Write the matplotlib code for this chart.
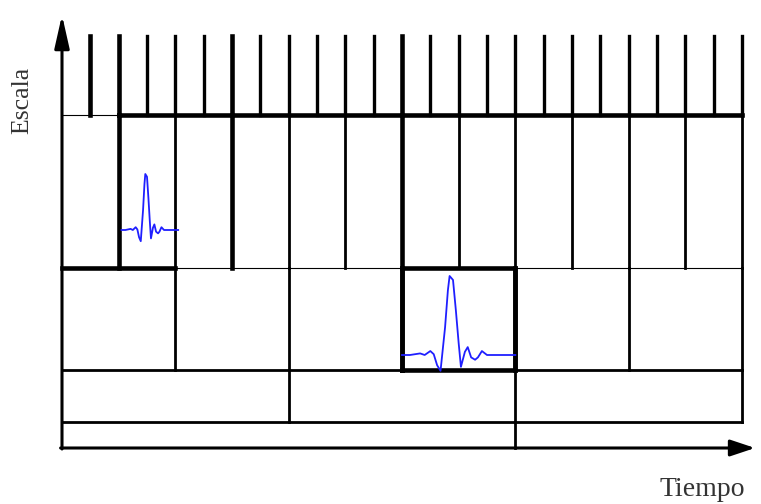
import matplotlib.pyplot as plt
import numpy as np

# tiling of the time-scale plane (bottom level first)
divisions = [2, 3, 6, 12, 24]
level_edges = [0, 26, 78, 180, 333, 412]
t_max = 24
bottom_cuts = [16]  # the lowest level is split unevenly

# emphasised (thick) vertical boundaries per level
thick_v = {0: [], 1: [], 2: [12, 16], 3: [2, 6, 12], 4: [1, 2, 6, 12]}
# highlighted cells: (level, cell index)
boxes = [(2, 3)]
# thin / thick horizontal pieces: (level edge, t0, t1)
thin_h = [(180, 0, 24), (333, 0, 2)]
thick_h = [(180, 0, 4), (333, 2, 24)]

# ECG-like wavelet shape (fraction of cell width, normalised amplitude)
ecg_t = [0.0, 0.07, 0.16, 0.20, 0.25, 0.28, 0.31, 0.34, 0.38, 0.405, 0.42,
         0.45, 0.475, 0.50, 0.52, 0.555, 0.58, 0.61, 0.645, 0.67, 0.705,
         0.75, 0.87, 1.0]
ecg_v = [0.0, 0.0, 0.02, 0.0, 0.05, 0.01, -0.13, -0.2, 0.35, 0.82, 1.0,
         0.95, 0.57, 0.15, -0.15, 0.04, 0.1, -0.03, -0.06, -0.03, 0.05,
         0.0, 0.0, 0.0]
# where the two wavelets sit: (t start, width, baseline, amplitude)
waves = [(2.1, 2.0, 218, 56), (12.0, 4.0, 93, 79)]

lw_thin, lw_norm, lw_bold = 0.8, 2.0, 3.3

px = 680 / t_max
fig = plt.figure(figsize=(7.61, 5.04), dpi=100)
ax = fig.add_axes([0, 0, 1, 1])
ax.set_xlim(-62 / px, (761 - 62) / px)
ax.set_ylim(-56, 448)
ax.axis("off")

# horizontal level boundaries
for y in level_edges[1:3]:
    ax.hlines(y, 0, t_max, color="black", lw=lw_norm, capstyle="projecting")
for y, a, b in thin_h:
    ax.hlines(y, a, b, color="black", lw=lw_thin)
for y, a, b in thick_h:
    ax.hlines(y, a, b, color="black", lw=lw_bold, capstyle="projecting")

# vertical cell boundaries
for i, n in enumerate(divisions):
    step = t_max / n
    ts = bottom_cuts if i == 0 else [k * step for k in range(1, n + 1)]
    for t in ts:
        lw = lw_bold if t in thick_v[i] else (2.4 if i == 4 else lw_norm)
        ax.vlines(t, level_edges[i], level_edges[i + 1], color="black", lw=lw,
                  capstyle="projecting")

# highlighted cells
for lev, c in boxes:
    step = t_max / divisions[lev]
    x0, x1 = c * step, (c + 1) * step
    y0, y1 = level_edges[lev], level_edges[lev + 1]
    ax.plot([x0, x1, x1, x0, x0], [y0, y0, y1, y1, y0], color="black",
            lw=lw_bold, solid_joinstyle="miter", solid_capstyle="projecting")

# wavelets
for t0, w, base, amp in waves:
    ax.plot(t0 + np.array(ecg_t) * w, base + np.array(ecg_v) * amp,
            color="#1f1fff", lw=1.3, zorder=5)

# axes with arrows
arrow_y = dict(arrowstyle="-|>,head_length=2.0,head_width=0.45",
               mutation_scale=10, lw=2.2, color="black",
               shrinkA=0, shrinkB=0)
arrow_x = dict(arrowstyle="-|>,head_length=1.5,head_width=0.5",
               mutation_scale=10, lw=2.2, color="black",
               shrinkA=0, shrinkB=0)
ax.annotate("", xy=(0, 433), xytext=(0, -1), arrowprops=arrow_y)
ax.annotate("", xy=(24.46, 0), xytext=(-0.05, 0), arrowprops=arrow_x)

ax.text(-1.41, 348, "Escala", rotation=90, ha="center", va="center",
        fontsize=18.5, family="Liberation Serif", color="#333333")
ax.text(22.6, -41, "Tiempo", ha="center", va="center",
        fontsize=20, family="Liberation Serif", color="#333333")

fig.savefig("out.png", dpi=100)
